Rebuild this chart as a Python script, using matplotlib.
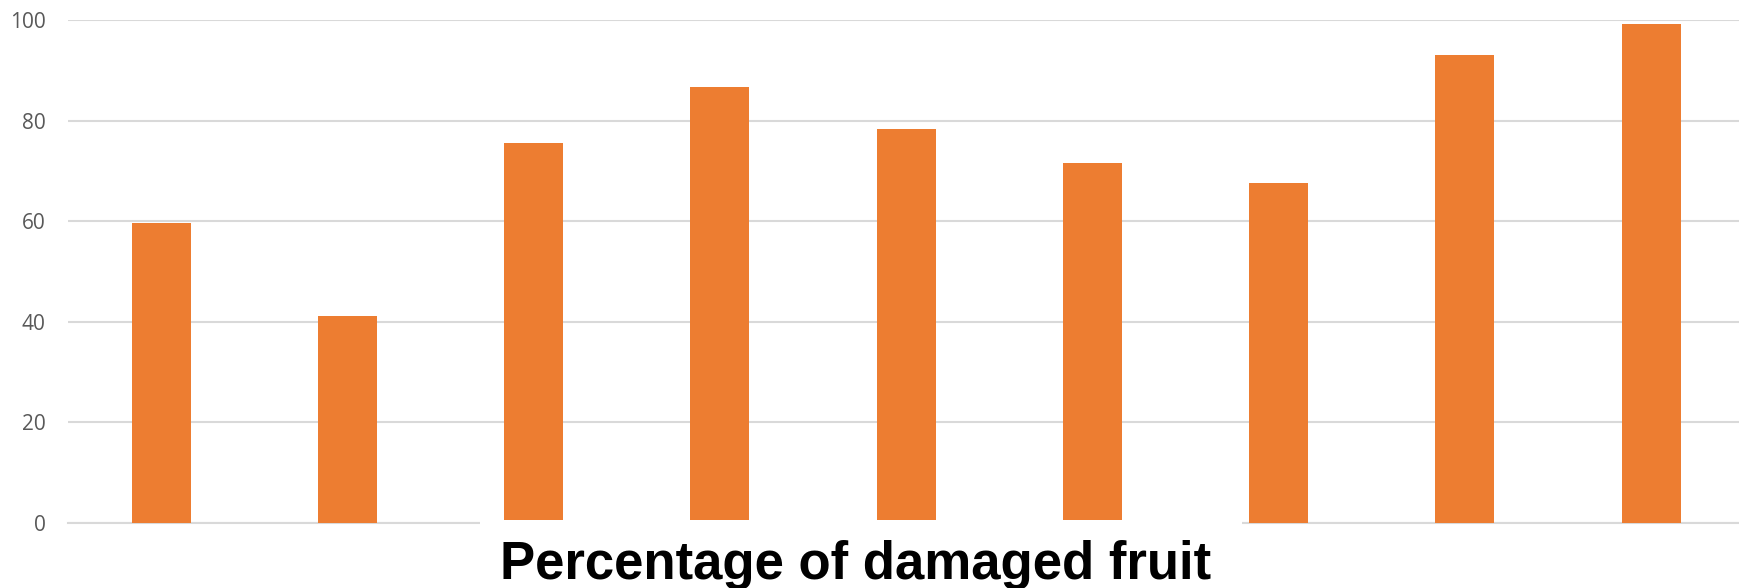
"""
Percentage of damaged fruit - bar chart
"""

import matplotlib
matplotlib.use('Agg')
import matplotlib.pyplot as plt
from matplotlib.patches import Rectangle

# Data
categories = ['1', '2', '3', '4', '5', '6', '7', '8', '9']
damaged_pct = [59.6, 41.2, 75.5, 86.6, 78.4, 71.6, 67.6, 93.1, 99.3]
y_ticks = [0, 20, 40, 60, 80, 100]

BAR_COLOR = '#ED7D31'
GRID_COLOR = '#D9D9D9'
LABEL_COLOR = '#595959'

W, H = 1740, 588


def make_chart():
    fig = plt.figure(figsize=(W / 100, H / 100), dpi=100)
    fig.patch.set_facecolor('white')

    # axes placed in pixel terms: left edge 68px, zero line at y=523, 100 at y=20
    ax = fig.add_axes([68 / W, (H - 523) / H, (W - 68) / W, (523 - 20) / H])

    x = list(range(len(categories)))
    ax.bar(x, damaged_pct, width=0.317, color=BAR_COLOR, zorder=3)

    ax.set_ylim(0, 100)
    ax.set_xlim(-0.5, (W - 68) / 186.25 - 0.5)
    ax.set_yticks(y_ticks)
    ax.set_yticklabels([str(t) for t in y_ticks], fontfamily='Open Sans',
                       fontsize=15, color=LABEL_COLOR)
    ax.set_xticks([])
    ax.tick_params(axis='y', length=0, pad=16)

    ax.grid(axis='y', color=GRID_COLOR, linewidth=1.5, zorder=0)
    for side in ['top', 'right', 'left']:
        ax.spines[side].set_visible(False)
    ax.spines['bottom'].set_color(GRID_COLOR)
    ax.spines['bottom'].set_linewidth(1.5)

    # white box behind the title, covering the bottom of the middle bars
    box = Rectangle((480 / W, 0), (1242 - 480) / W, (H - 520) / H,
                    transform=fig.transFigure, facecolor='white',
                    edgecolor='none', zorder=5)
    fig.add_artist(box)

    fig.text(855.5 / W, 9 / H, 'Percentage of damaged fruit',
             fontfamily='Liberation Sans', fontweight='bold', fontsize=38,
             color='black', ha='center', va='baseline', zorder=6)

    fig.savefig('out.png', dpi=100, facecolor='white')
    print("Saved: out.png")


if __name__ == "__main__":
    make_chart()
